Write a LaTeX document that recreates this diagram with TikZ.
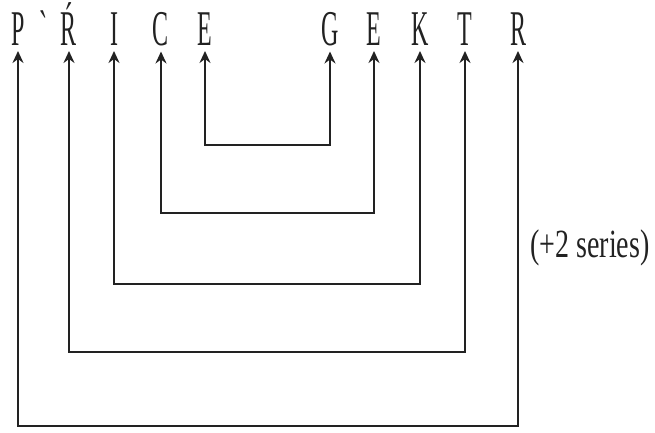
\documentclass[tikz,border=0pt]{standalone}
\usepackage{fontspec}
\setmainfont{Liberation Serif}
\usetikzlibrary{arrows.meta}
\definecolor{ink}{HTML}{222222}
\newcommand{\bigltr}[1]{\scalebox{0.48}[1]{\fontsize{50}{50}\selectfont #1}}
\newcommand{\notetxt}[1]{\scalebox{0.7}[1]{\fontsize{40}{40}\selectfont #1}}
\tikzset{
  ltr/.style={anchor=base, inner xsep=0pt, inner ysep=5pt, outer sep=0pt, text=ink},
  link/.style={draw=ink, line width=2.7pt, line join=miter,
    {Stealth[length=12pt,width=11pt,inset=4pt]}-{Stealth[length=12pt,width=11pt,inset=4pt]}}
}
\begin{document}
\begin{tikzpicture}[x=1pt,y=-1pt]
\useasboundingbox (0,0) rectangle (655,433);
\node[ltr] (P)  at (18,46)  {\bigltr{P}};
\node[ltr] (gr) at (43,46)  {\bigltr{ˋ}};
\node[ltr] (R1) at (69,46)  {\bigltr{Ŕ}};
\node[ltr] (I)  at (114,46) {\bigltr{I}};
\node[ltr] (C)  at (161,46) {\bigltr{C}};
\node[ltr] (E1) at (205,46) {\bigltr{E}};
\node[ltr] (G)  at (330,46) {\bigltr{G}};
\node[ltr] (E2) at (374,46) {\bigltr{E}};
\node[ltr] (K)  at (420,46) {\bigltr{K}};
\node[ltr] (T)  at (465,46) {\bigltr{T}};
\node[ltr] (R2) at (518,46) {\bigltr{R}};
\node[anchor=base, inner sep=0pt, text=ink] (note) at (590,257) {\notetxt{(+2 series)}};
\draw[link] (E1.south) -- (E1.south |- 0,145) -| (G.south);
\draw[link] (C.south)  -- (C.south |- 0,213)  -| (E2.south);
\draw[link] (I.south)  -- (I.south |- 0,284)  -| (K.south);
\draw[link] (R1.south) -- (R1.south |- 0,352) -| (T.south);
\draw[link] (P.south)  -- (P.south |- 0,426)  -| (R2.south);
\end{tikzpicture}
\end{document}
